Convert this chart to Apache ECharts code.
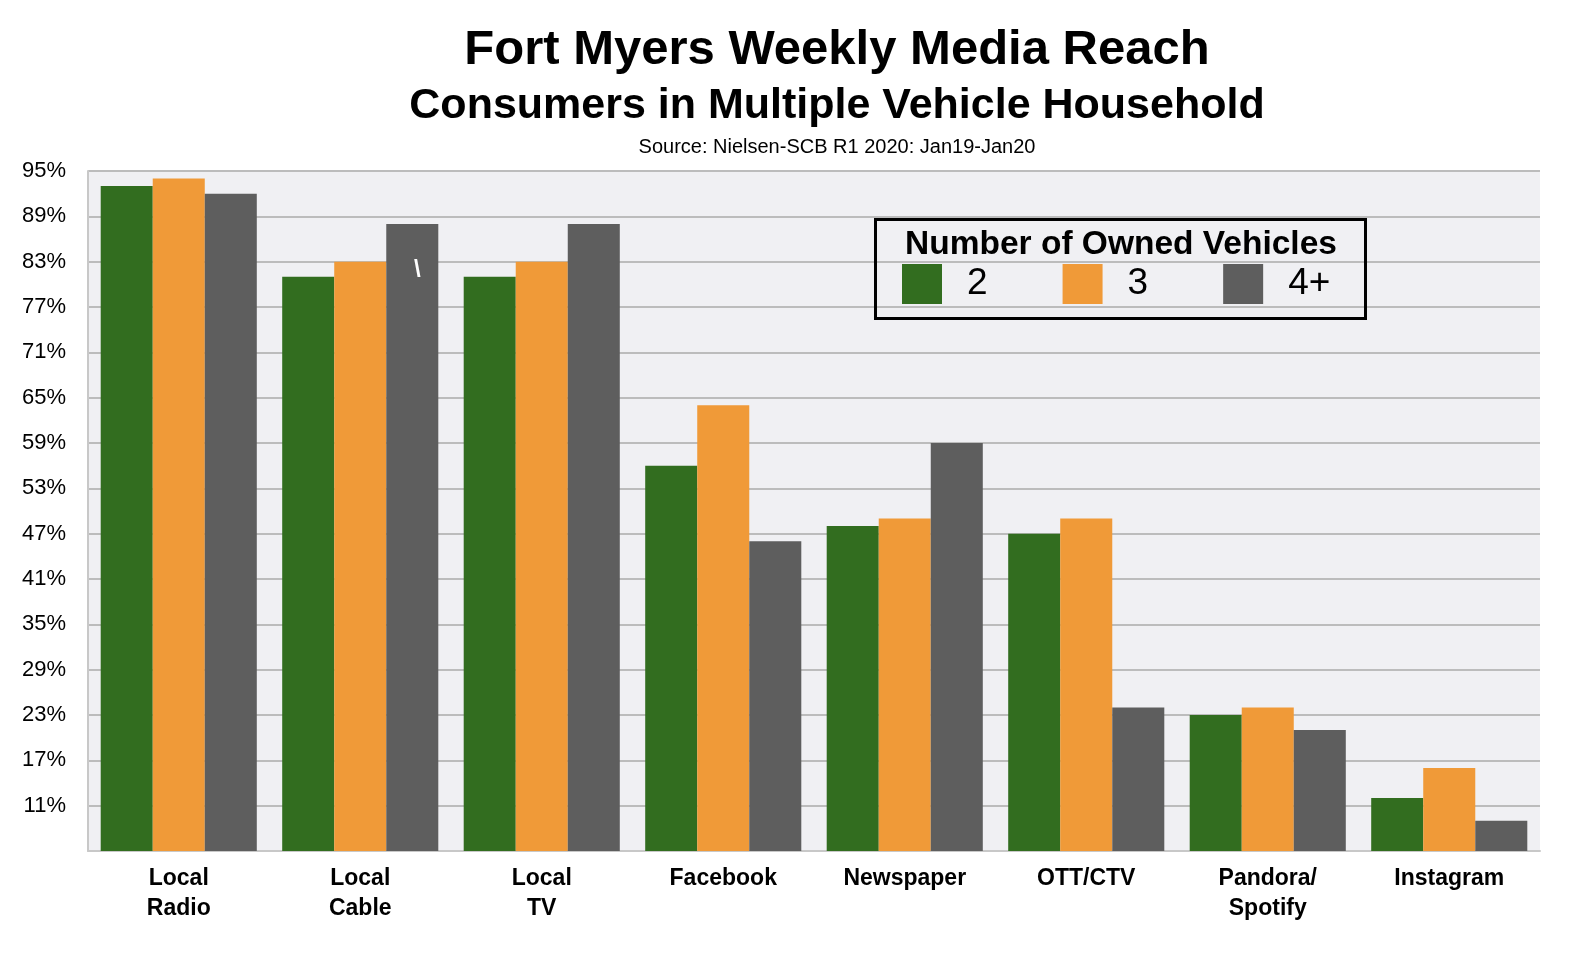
<!DOCTYPE html>
<html><head><meta charset="utf-8">
<script src="https://cdn.jsdelivr.net/npm/echarts@6/dist/echarts.min.js"></script>
<style>html,body{margin:0;padding:0;background:#fff}#c{width:1586px;height:956px}</style>
</head><body><div id="c"></div>
<script>
const categories = ['Local\nRadio','Local\nCable','Local\nTV','Facebook','Newspaper','OTT/CTV','Pandora/\nSpotify','Instagram'];
const seriesNames = ['2','3','4+'];
const vehicles2 = [93, 81, 81, 56, 48, 47, 23, 12];
const vehicles3 = [94, 83, 83, 64, 49, 49, 24, 16];
const vehicles4 = [92, 88, 88, 46, 59, 24, 21, 9];
const colors = ['#326d1f', '#f09a38', '#5e5e5e'];
const FONT = '"Liberation Sans", Arial, Helvetica, sans-serif';

const chart = echarts.init(document.getElementById('c'));
const gray4 = vehicles4.map((v, i) => i === 1 ? {
  value: v,
  label: {show: true, position: 'insideTop', distance: 34, offset: [5, 0], formatter: '\\', color: '#fff', fontSize: 24, fontWeight: 'bold', fontFamily: FONT}
} : v);

chart.setOption({
  animation: false,
  title: [
    {text: 'Fort Myers Weekly Media Reach', left: 832, top: 21, textAlign: 'center',
     textStyle: {fontFamily: FONT, fontWeight: 'bold', fontSize: 49, color: '#000'}},
    {text: 'Consumers in Multiple Vehicle Household', left: 832, top: 80, textAlign: 'center',
     textStyle: {fontFamily: FONT, fontWeight: 'bold', fontSize: 43, color: '#000'}},
    {text: 'Source: Nielsen-SCB R1 2020: Jan19-Jan20', left: 832, top: 132, textAlign: 'center',
     textStyle: {fontFamily: FONT, fontWeight: 'normal', fontSize: 20, color: '#000'}},
    {text: 'Number of Owned Vehicles', left: 1116, top: 223, textAlign: 'center',
     textStyle: {fontFamily: FONT, fontWeight: 'bold', fontSize: 33.5, color: '#000'}}
  ],
  legend: {
    data: seriesNames, left: 902, top: 264, orient: 'horizontal', padding: 0,
    itemWidth: 40, itemHeight: 40, itemGap: 75, icon: 'rect',
    textStyle: {fontFamily: FONT, fontSize: 37, color: '#000', padding: [0, 0, 0, 20]}
  },
  graphic: [{type: 'rect', left: 873, top: 217, shape: {width: 490, height: 99},
    style: {fill: 'none', stroke: '#000', lineWidth: 3}, z: 100}],
  grid: {left: 88, right: 46, top: 171, bottom: 105, show: true, backgroundColor: '#f0f0f3', borderColor: '#c8c8c8', borderWidth: 0},
  xAxis: {
    type: 'category', data: categories,
    axisLine: {show: true, lineStyle: {color: '#c8c8c8', width: 2}},
    axisTick: {show: false},
    axisLabel: {fontFamily: FONT, fontWeight: 'bold', fontSize: 23, color: '#000', lineHeight: 30, margin: 13}
  },
  yAxis: {
    type: 'value', min: 5, max: 95, interval: 6,
    axisLine: {show: true, lineStyle: {color: '#c8c8c8', width: 2}},
    axisTick: {show: false},
    splitLine: {lineStyle: {color: '#bcbcbc', width: 2}},
    axisLabel: {showMinLabel: false, formatter: '{value}%', fontFamily: FONT, fontSize: 22, color: '#000', margin: 22}
  },
  series: [
    {name: '2', type: 'bar', data: vehicles2, itemStyle: {color: colors[0]}, barGap: '0%', barCategoryGap: '14%'},
    {name: '3', type: 'bar', data: vehicles3, itemStyle: {color: colors[1]}, barGap: '0%', barCategoryGap: '14%'},
    {name: '4+', type: 'bar', data: gray4, itemStyle: {color: colors[2]}, barGap: '0%', barCategoryGap: '14%'}
  ]
});
</script></body></html>
